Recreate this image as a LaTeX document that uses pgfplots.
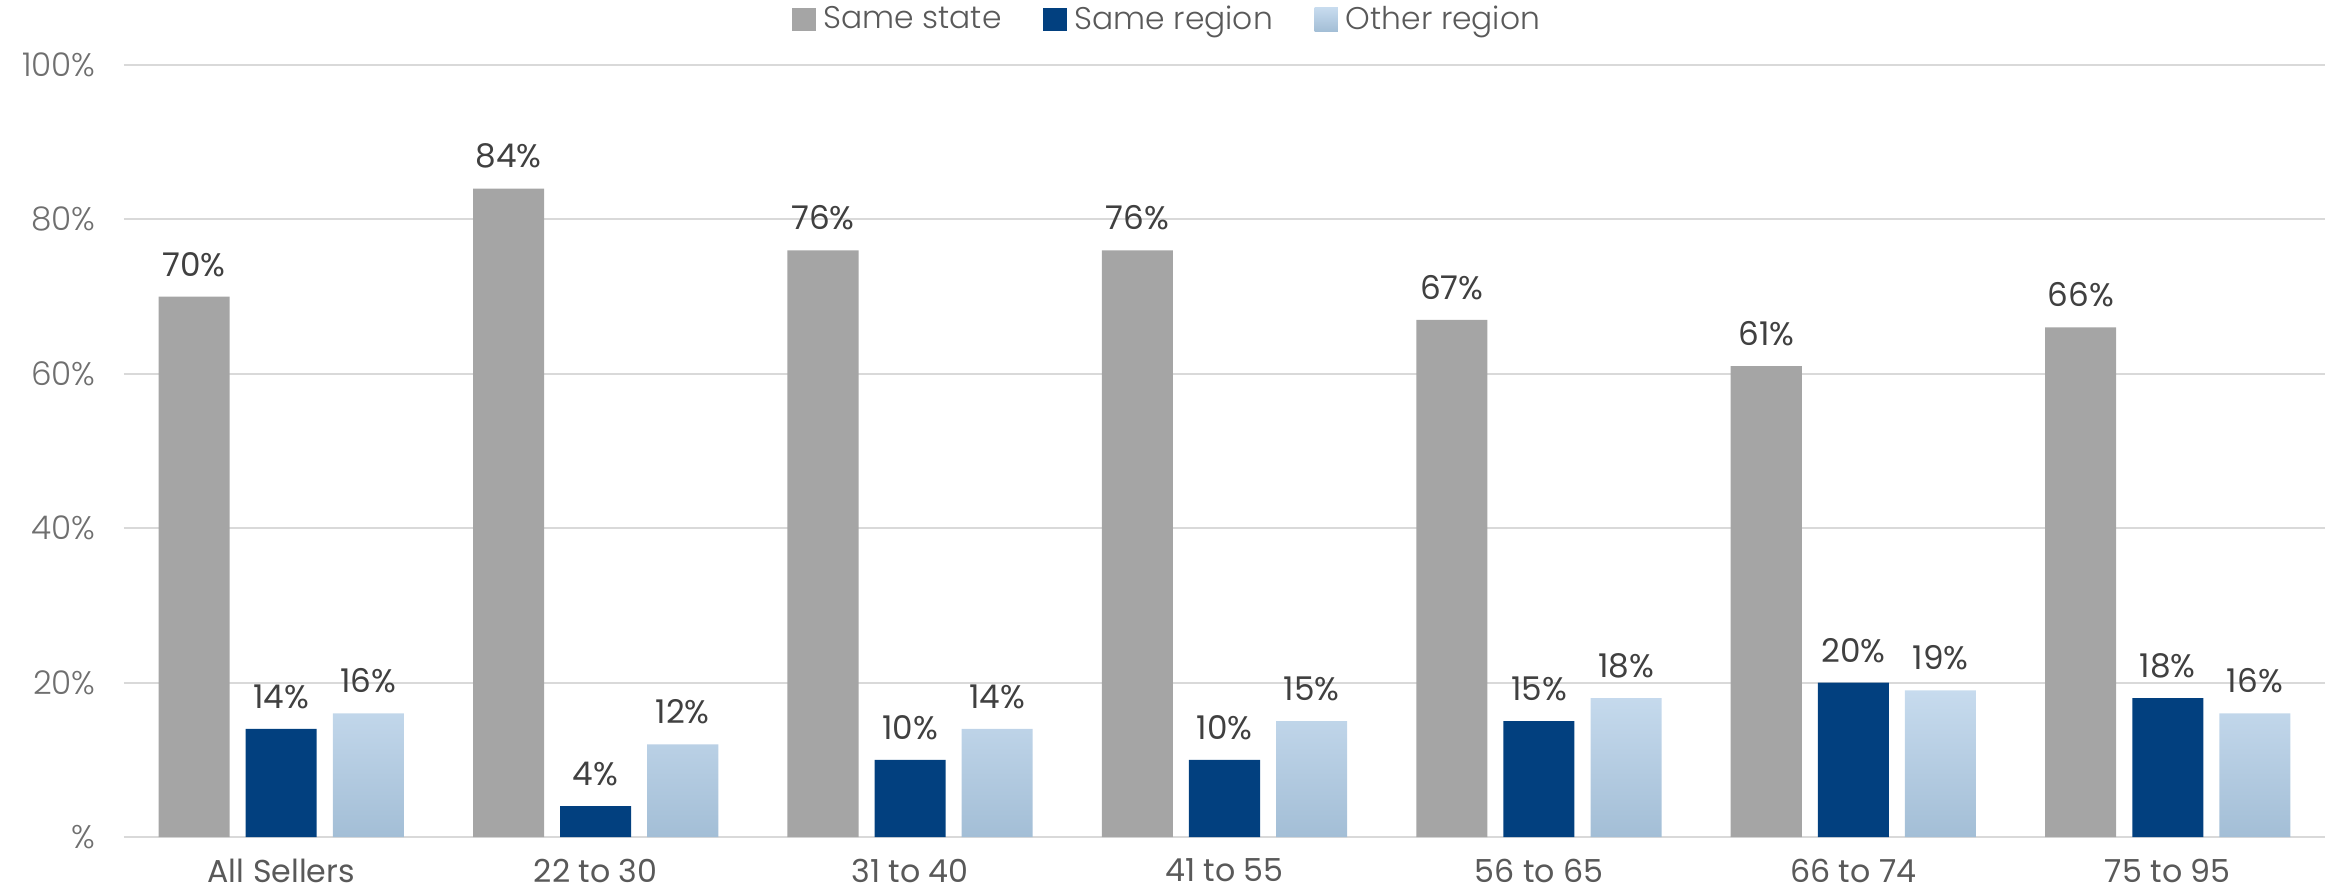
\documentclass[border=0pt]{standalone}
\usepackage{fontspec}
\setmainfont{Poppins}
\newfontfamily\poplight{Poppins}[UprightFont=* Light]
\usepackage{pgfplots}
\pgfplotsset{compat=1.18}
\definecolor{sstate}{HTML}{A5A5A5}
\definecolor{sregion}{HTML}{02407F}
\definecolor{otop}{HTML}{C7DBEE}
\definecolor{omid}{HTML}{BCD5EA}
\definecolor{obot}{HTML}{A3BED6}
\definecolor{gridc}{HTML}{D9D9D9}
\definecolor{ticktext}{HTML}{6F6F6F}
\definecolor{cattext}{HTML}{595959}
\definecolor{labtext}{HTML}{404040}
\begin{document}
\begin{tikzpicture}
\useasboundingbox (0,0) rectangle (702.3pt,268.2pt);
\begin{axis}[
  at={(37.2pt,17.1pt)}, anchor=south west,
  scale only axis, width=660.3pt, height=231.6pt,
  xmin=-0.5, xmax=6.5, ymin=0, ymax=100,
  ybar, bar width=0.226,
  xtick={0,...,6},
  xticklabels={All Sellers,22 to 30,31 to 40,41 to 55,56 to 65,66 to 74,75 to 95},
  ytick={0,20,...,100},
  yticklabels={\%,20\%,40\%,60\%,80\%,100\%},
  ymajorgrids, grid style={color=gridc, line width=0.6pt},
  axis x line*=bottom, axis y line*=left,
  y axis line style={draw=none},
  x axis line style={draw=gridc, line width=0.8pt},
  major tick length=0pt,
  xtick style={draw=none}, ytick style={draw=none},
  /pgf/number format/assume math mode=true,
  xticklabel style={font=\fontsize{9.5}{11}\selectfont, text=cattext, yshift=-3pt},
  yticklabel style={font=\poplight\fontsize{9.8}{11}\selectfont, text=ticktext, xshift=-5pt},
  nodes near coords={\pgfmathprintnumber{\pgfplotspointmeta}\%},
  every node near coord/.append style={font=\fontsize{9.8}{11}\selectfont, text=labtext, yshift=2.5pt},
  legend style={at={(0.475,1.058)}, anchor=center, draw=none, fill=none,
    legend columns=-1, font=\poplight\fontsize{9.4}{11}\selectfont, text=cattext,
    /tikz/every even column/.append style={column sep=10.5pt},
    /tikz/every odd column/.append style={column sep=0.4pt}},
  legend image code/.code={\fill[#1] (0pt,-3.3pt) rectangle (7pt,3.7pt);},
  clip=false,
]
\addplot[draw=none, fill=sstate, bar shift=-0.277] coordinates {(0,70) (1,84) (2,76) (3,76) (4,67) (5,61) (6,66)};
\addplot[draw=none, fill=sregion, bar shift=0] coordinates {(0,14) (1,4) (2,10) (3,10) (4,15) (5,20) (6,18)};
\addplot[draw=none, top color=otop, middle color=omid, bottom color=obot, bar shift=0.277] coordinates {(0,16) (1,12) (2,14) (3,15) (4,18) (5,19) (6,16)};
\legend{Same state, Same region, Other region}
\end{axis}
\end{tikzpicture}
\end{document}
